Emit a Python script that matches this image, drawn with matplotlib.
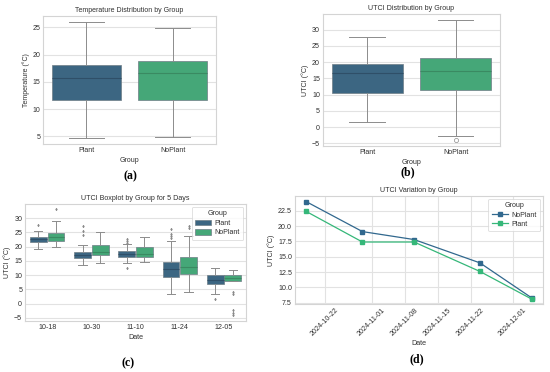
import matplotlib
matplotlib.use("Agg")
import matplotlib.pyplot as plt
import matplotlib.dates as mdates
from matplotlib.patches import Patch
import numpy as np
import datetime as dt

# ---------------- data ----------------
groups = ["Plant", "NoPlant"]

# panel (a) temperature box stats: [whislo, q1, med, q3, whishi]
temp_plant = [4.7, 11.7, 15.8, 18.1, 26.0]
temp_noplant = [4.9, 11.7, 16.7, 18.9, 24.9]

# panel (b) UTCI box stats
utci_plant = [1.6, 10.6, 16.6, 19.3, 27.6]
utci_noplant = [-2.7, 11.3, 17.2, 21.3, 33.0]
utci_plant_fliers = []
utci_noplant_fliers = [-3.9]

# panel (c) UTCI by date
dates_c = ["10-18", "10-30", "11-10", "11-24", "12-05"]
c_plant = [
    [19.1, 21.6, 22.6, 23.4, 25.5],
    [13.5, 16.1, 17.0, 18.0, 20.5],
    [14.1, 16.3, 17.4, 18.6, 20.8],
    [3.3, 9.3, 12.1, 14.7, 22.1],
    [3.3, 7.0, 8.4, 10.2, 12.4],
]
c_plant_fliers = [
    [27.5],
    [27.3, 25.6, 24.0],
    [22.8, 22.1, 21.4, 12.6],
    [26.3, 24.5, 23.6, 23.0],
    [1.7],
]
c_noplant = [
    [19.8, 22.1, 23.3, 24.8, 29.1],
    [14.1, 17.2, 18.1, 20.5, 25.1],
    [14.7, 16.2, 17.5, 19.8, 23.5],
    [4.1, 10.3, 12.7, 16.5, 23.6],
    [7.8, 8.1, 9.0, 10.2, 11.9],
]
c_noplant_fliers = [
    [33.0],
    [],
    [],
    [27.3, 26.5],
    [4.1, 3.4, -2.4, -3.2, -3.9],
]

# panel (d) mean UTCI over time
dates_d = ["2024-10-18", "2024-10-30", "2024-11-10", "2024-11-24", "2024-12-05"]
d_noplant = [24.0, 19.1, 17.8, 14.0, 8.3]
d_plant = [22.4, 17.4, 17.4, 12.6, 8.1]
d_xticks = ["2024-10-22", "2024-11-01", "2024-11-08", "2024-11-15", "2024-11-22", "2024-12-01"]

# ---------------- style ----------------
plt.rcParams['font.family'] = ['Liberation Sans', 'DejaVu Sans']
FS_A = 5.0
FS_C = 5.1
TXT = '#303030'
GRID = '#e2e2e2'
SPINE = '#d4d4d4'
LINEC = '#8c8c8c'
BOX_FILL = {"Plant": "#3c6682", "NoPlant": "#45a778"}
MED_C = {"Plant": "#2f4f68", "NoPlant": "#3a8a62"}
LINE_C = {"Plant": "#35b779", "NoPlant": "#31688e"}

fig = plt.figure(figsize=(5.5, 3.72), dpi=100)


def style_ax(ax, fs, xgrid=False):
    ax.set_facecolor('white')
    for s in ax.spines.values():
        s.set_color(SPINE)
        s.set_linewidth(0.8)
    ax.grid(True, axis='y', color=GRID, linewidth=0.8)
    if xgrid:
        ax.grid(True, axis='x', color=GRID, linewidth=0.8)
    ax.set_axisbelow(True)
    ax.tick_params(length=0, labelsize=fs, colors=TXT, pad=2)


def stats_from(vals, fliers, label=""):
    return dict(whislo=vals[0], q1=vals[1], med=vals[2], q3=vals[3],
                whishi=vals[4], fliers=list(fliers), label=label)


def draw_box(ax, stats_list, positions, group, width, flier_marker='o', flier_size=3,
             flier_fill='none'):
    ax.bxp(stats_list, positions=positions, widths=width, patch_artist=True,
           showfliers=True, manage_ticks=False,
           capwidths=width * 0.5,
           boxprops=dict(facecolor=BOX_FILL[group], edgecolor='#6f7d86', linewidth=0.5),
           whiskerprops=dict(color=LINEC, linewidth=0.7),
           capprops=dict(color=LINEC, linewidth=0.7),
           medianprops=dict(color=MED_C[group], linewidth=0.8),
           flierprops=dict(marker=flier_marker, markersize=flier_size,
                           markerfacecolor=flier_fill, markeredgecolor='#8a8a8a',
                           markeredgewidth=0.5, linestyle='none'))


def style_legend(leg):
    leg.get_frame().set_edgecolor(SPINE)
    leg.get_frame().set_linewidth(0.6)
    for t in leg.get_texts():
        t.set_color(TXT)
    leg.get_title().set_color(TXT)


# ---------------- panel (a) ----------------
ax_a = fig.add_axes([0.0782, 0.6129, 0.3145, 0.344])
style_ax(ax_a, FS_A)
draw_box(ax_a, [stats_from(temp_plant, [])], [0], "Plant", 0.8)
draw_box(ax_a, [stats_from(temp_noplant, [])], [1], "NoPlant", 0.8)
ax_a.set_xlim(-0.5, 1.5)
ax_a.set_ylim(3.6, 27.1)
ax_a.set_yticks([5, 10, 15, 20, 25])
ax_a.set_xticks([0, 1])
ax_a.set_xticklabels(groups)
ax_a.set_title("Temperature Distribution by Group", fontsize=FS_A, color=TXT, pad=3)
ax_a.set_xlabel("Group", fontsize=FS_A, color=TXT, labelpad=2)
ax_a.set_ylabel("Temperature (°C)", fontsize=FS_A, color=TXT, labelpad=2)

# ---------------- panel (b) ----------------
ax_b = fig.add_axes([0.587, 0.6075, 0.322, 0.355])
style_ax(ax_b, FS_C)
draw_box(ax_b, [stats_from(utci_plant, utci_plant_fliers)], [0], "Plant", 0.8)
draw_box(ax_b, [stats_from(utci_noplant, utci_noplant_fliers)], [1], "NoPlant", 0.8)
ax_b.set_xlim(-0.5, 1.5)
ax_b.set_ylim(-5.8, 34.8)
ax_b.set_yticks([-5, 0, 5, 10, 15, 20, 25, 30])
ax_b.set_xticks([0, 1])
ax_b.set_xticklabels(groups)
ax_b.set_title("UTCI Distribution by Group", fontsize=FS_C, color=TXT, pad=3)
ax_b.set_xlabel("Group", fontsize=FS_C, color=TXT, labelpad=2)
ax_b.set_ylabel("UTCI (°C)", fontsize=FS_C, color=TXT, labelpad=2)

# ---------------- panel (c) ----------------
ax_c = fig.add_axes([0.0455, 0.137, 0.402, 0.3145])
style_ax(ax_c, FS_C)
xs = np.arange(len(dates_c))
draw_box(ax_c, [stats_from(v, f) for v, f in zip(c_plant, c_plant_fliers)],
         xs - 0.2, "Plant", 0.38, flier_marker='d', flier_size=1.3, flier_fill='#8a8a8a')
draw_box(ax_c, [stats_from(v, f) for v, f in zip(c_noplant, c_noplant_fliers)],
         xs + 0.2, "NoPlant", 0.38, flier_marker='d', flier_size=1.3, flier_fill='#8a8a8a')
ax_c.set_xlim(-0.5, len(dates_c) - 0.5)
ax_c.set_ylim(-6.1, 34.9)
ax_c.set_yticks([-5, 0, 5, 10, 15, 20, 25, 30])
ax_c.set_xticks(xs)
ax_c.set_xticklabels(dates_c)
ax_c.set_title("UTCI Boxplot by Group for 5 Days", fontsize=FS_C, color=TXT, pad=3)
ax_c.set_xlabel("Date", fontsize=FS_C, color=TXT, labelpad=2)
ax_c.set_ylabel("UTCI (°C)", fontsize=FS_C, color=TXT, labelpad=2)
handles_c = [Patch(facecolor=BOX_FILL[g], edgecolor='#6f7d86', linewidth=0.5, label=g) for g in groups]
leg_c = ax_c.legend(handles=handles_c, title="Group", loc='upper right', fontsize=FS_C,
                    title_fontsize=FS_C, frameon=True, handlelength=2.2, handleheight=0.9,
                    borderpad=0.5, labelspacing=0.3, handletextpad=0.5, borderaxespad=0.4)
style_legend(leg_c)

# ---------------- panel (d) ----------------
ax_d = fig.add_axes([0.536, 0.183, 0.451, 0.290])
style_ax(ax_d, FS_C, xgrid=True)
dd = [dt.datetime.strptime(s, "%Y-%m-%d") for s in dates_d]
ax_d.plot(dd, d_noplant, color=LINE_C["NoPlant"], marker='s', markersize=2.2,
          linewidth=0.9, label="NoPlant")
ax_d.plot(dd, d_plant, color=LINE_C["Plant"], marker='s', markersize=2.2,
          linewidth=0.9, label="Plant")
ax_d.set_xticks([dt.datetime.strptime(s, "%Y-%m-%d") for s in d_xticks])
ax_d.xaxis.set_major_formatter(mdates.DateFormatter("%Y-%m-%d"))
plt.setp(ax_d.get_xticklabels(), rotation=45, ha='center')
ax_d.set_yticks([7.5, 10.0, 12.5, 15.0, 17.5, 20.0, 22.5])
ax_d.set_yticklabels(["7.5", "10.0", "12.5", "15.0", "17.5", "20.0", "22.5"])
ax_d.set_ylim(7.3, 24.9)
ax_d.set_title("UTCI Variation by Group", fontsize=FS_C, color=TXT, pad=3)
ax_d.set_xlabel("Date", fontsize=FS_C, color=TXT, labelpad=2)
ax_d.set_ylabel("UTCI (°C)", fontsize=FS_C, color=TXT, labelpad=2)
leg_d = ax_d.legend(title="Group", loc='upper right', fontsize=FS_C, title_fontsize=FS_C,
                    frameon=True, handlelength=2.2, borderpad=0.5, labelspacing=0.3,
                    handletextpad=0.5, borderaxespad=0.4)
style_legend(leg_d)

# ---------------- panel labels ----------------
lab_kw = dict(fontsize=8.5, fontweight='bold', family=['Liberation Serif', 'DejaVu Serif'],
              ha='center', va='center', color='black')
fig.text(130 / 550, 1 - 176 / 372, "(a)", **lab_kw)
fig.text(408 / 550, 1 - 172 / 372, "(b)", **lab_kw)
fig.text(128 / 550, 1 - 363 / 372, "(c)", **lab_kw)
fig.text(417 / 550, 1 - 359 / 372, "(d)", **lab_kw)

fig.savefig("out.png", dpi=100, facecolor='white')
